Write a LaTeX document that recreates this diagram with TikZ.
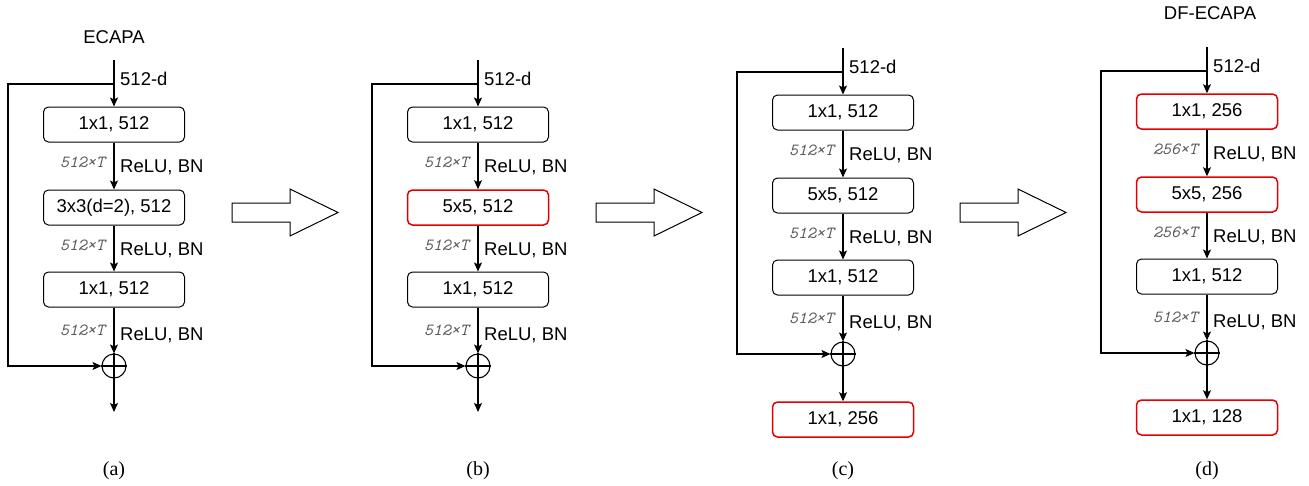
\documentclass[tikz,border=0pt]{standalone}
\usepackage{fontspec}
\setmainfont{Liberation Sans}
\newfontfamily\capfont{Liberation Serif}
\usetikzlibrary{arrows.meta}
\definecolor{redc}{RGB}{228,0,0}
\definecolor{dimgray}{RGB}{90,90,90}
\tikzset{
  blk/.style={draw, rounded corners=5pt, minimum width=141pt, minimum height=35pt,
    line width=1pt, font=\fontsize{18.5}{21}\selectfont, inner sep=0pt},
  redblk/.style={blk, draw=redc, line width=1.5pt},
  arr/.style={line width=1.1pt, -{Stealth[length=9pt,width=8pt,inset=2pt]}},
  ln/.style={line width=1.1pt},
  plus/.style={draw, circle, minimum size=24pt, inner sep=0pt, line width=1.1pt},
  lab/.style={font=\fontsize{18.5}{21}\selectfont, anchor=base west, inner sep=0pt},
  dim/.style={font=\ttfamily\itshape\fontsize{17}{19}\selectfont, text=dimgray, anchor=base east, inner sep=0pt},
  ttl/.style={font=\fontsize{18.5}{21}\selectfont, anchor=base, inner sep=0pt},
  captxt/.style={font=\capfont\fontsize{20}{23}\selectfont, anchor=base, inner sep=0pt},
  bigarrow/.style={draw, line width=1pt, fill=white, line join=miter},
}
% #1 prefix, #2 cx, #3 dy, #4 box1 text, #5 box1 style, #6 box2 text, #7 box2 style, #8 dim1, #9 dim2
\newcommand\ecpanel[9]{%
  \begin{scope}[shift={(#2,#3)}]
    \coordinate (#1top) at (0,60);
    \coordinate (#1fb) at (0,84);
    \coordinate (#1fl) at (-106,84);
    \node[#5] (#1b1) at (0,124.5) {#4};
    \node[#7] (#1b2) at (0,207.5) {#6};
    \node[blk] (#1b3) at (0,289.5) {1x1, 512};
    \node[plus] (#1p) at (0,366) {};
    \draw[ln] (#1p.north) -- (#1p.south) (#1p.west) -- (#1p.east);
    \draw[arr] (#1top) -- (#1b1);
    \draw[arr] (#1b1) -- (#1b2);
    \draw[arr] (#1b2) -- (#1b3);
    \draw[arr] (#1b3) -- (#1p);
    \draw[arr] (#1fb) -- (#1fl) |- (#1p.west);
    \node[lab] (#1l0) at (6,85) {512-d};
    \node[lab] (#1l1) at (6,172) {ReLU, BN};
    \node[lab] (#1l2) at (6,255) {ReLU, BN};
    \node[lab] (#1l3) at (6,340) {ReLU, BN};
    \node[dim] (#1d1) at (-9,167.5) {#8×T};
    \node[dim] (#1d2) at (-9,250.5) {#9×T};
    \node[dim] (#1d3) at (-9,335.5) {512×T};
  \end{scope}}
\begin{document}
\begin{tikzpicture}[x=1pt,y=-1pt]
  \useasboundingbox (0,0) rectangle (1309,485);
  % (a)
  \node[ttl] (ta) at (114,43) {ECAPA};
  \ecpanel{a}{114}{0}{1x1, 512}{blk}{3x3(d=2), 512}{blk}{512}{512}
  \coordinate (aout) at (114,412);
  \draw[arr] (ap) -- (aout);
  \node[captxt] (ca) at (114,475) {(a)};
  % (b)
  \ecpanel{b}{478}{0}{1x1, 512}{blk}{5x5, 512}{redblk}{512}{512}
  \coordinate (bout) at (478,412);
  \draw[arr] (bp) -- (bout);
  \node[captxt] (cb) at (478,475) {(b)};
  % (c)
  \ecpanel{c}{843}{-12}{1x1, 512}{blk}{5x5, 512}{blk}{512}{512}
  \node[redblk] (cout) at (843,419.5) {1x1, 256};
  \draw[arr] (cp) -- (cout);
  \node[captxt] (cc) at (843,475) {(c)};
  % (d)
  \node[ttl] (td) at (1210,19) {DF-ECAPA};
  \ecpanel{d}{1207}{-13}{1x1, 256}{redblk}{5x5, 256}{redblk}{256}{256}
  \node[redblk] (dout) at (1207,417.5) {1x1, 128};
  \draw[arr] (dp) -- (dout);
  \node[captxt] (cd) at (1207,475) {(d)};
  % big hollow arrows
  \foreach \x in {232,596,960}{
    \draw[bigarrow] (\x,203) -- (\x+58,203) -- (\x+58,189) -- (\x+106,212.5)
      -- (\x+58,236) -- (\x+58,222) -- (\x,222) -- cycle;
  }
\end{tikzpicture}
\end{document}
